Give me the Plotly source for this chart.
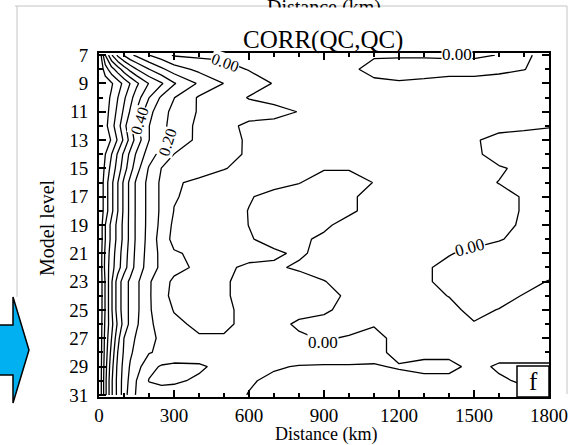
import plotly.graph_objects as go

# ---------------- data ----------------
dist_km = [0, 25, 50, 75, 100, 125, 150, 200, 250, 300, 400, 500, 600, 700, 800,
           900, 1000, 1100, 1200, 1300, 1400, 1500, 1600, 1700, 1800]
model_levels = list(range(7, 32))

corr_L07 = [1.00, 0.70, 0.51, 0.38, 0.29, 0.22, 0.18, 0.101, 0.05, -0.01, -0.02, -0.02, -0.03, -0.03, -0.03, -0.03, -0.02, -0.01, -0.01, -0.01, -0.01, -0.01, 0.002, 0.01, -0.02]
corr_L08 = [1.00, 0.85, 0.74, 0.65, 0.55, 0.47, 0.402, 0.302, 0.22, 0.15, 0.075, 0.034, -0.005, -0.02, -0.03, -0.03, -0.02, 0.03, 0.04, 0.04, 0.03, 0.03, 0.02, 0.002, -0.03]
corr_L09 = [1.00, 0.956, 0.912, 0.847, 0.773, 0.697, 0.621, 0.495, 0.412, 0.309, 0.186, 0.098, 0.045, -0.005, -0.03, -0.03, -0.03, -0.02, -0.01, -0.02, -0.03, -0.03, -0.04, -0.04, -0.04]
corr_L10 = [1.00, 0.944, 0.883, 0.802, 0.717, 0.633, 0.55, 0.402, 0.283, 0.203, 0.088, 0.046, -0.005, -0.02, -0.03, -0.03, -0.03, -0.03, -0.03, -0.03, -0.03, -0.03, -0.03, -0.03, -0.03]
corr_L11 = [1.00, 0.938, 0.864, 0.774, 0.681, 0.589, 0.493, 0.329, 0.238, 0.171, 0.091, 0.06, 0.04, 0.02, -0.002, -0.02, -0.03, -0.03, -0.03, -0.03, -0.03, -0.03, -0.03, -0.03, -0.03]
corr_L12 = [1.00, 0.929, 0.84, 0.74, 0.635, 0.523, 0.433, 0.302, 0.226, 0.164, 0.078, 0.027, -0.02, -0.02, -0.03, -0.03, -0.03, -0.03, -0.03, -0.03, -0.03, -0.03, -0.03, -0.02, -0.005]
corr_L13 = [1.00, 0.948, 0.892, 0.788, 0.68, 0.563, 0.458, 0.302, 0.222, 0.161, 0.078, 0.027, -0.01, -0.02, -0.03, -0.03, -0.03, -0.03, -0.03, -0.03, -0.03, -0.01, 0.03, 0.04, 0.03]
corr_L14 = [1.00, 0.902, 0.802, 0.687, 0.578, 0.474, 0.386, 0.25, 0.163, 0.099, 0.063, 0.025, -0.01, -0.02, -0.03, -0.03, -0.03, -0.03, -0.03, -0.03, -0.03, -0.02, 0.04, 0.05, 0.04]
corr_L15 = [1.00, 0.877, 0.765, 0.657, 0.545, 0.44, 0.34, 0.19, 0.098, 0.079, 0.041, 0.003, -0.02, -0.03, -0.03, -0.005, -0.005, -0.02, -0.03, -0.03, -0.03, -0.03, -0.01, 0.02, 0.04]
corr_L16 = [1.00, 0.85, 0.725, 0.602, 0.478, 0.371, 0.281, 0.171, 0.081, 0.012, -0.02, -0.03, -0.03, -0.02, -0.003, 0.03, 0.03, -0.002, -0.03, -0.03, -0.03, -0.02, 0.002, 0.03, 0.04]
corr_L17 = [1.00, 0.85, 0.725, 0.602, 0.478, 0.371, 0.281, 0.171, 0.081, 0.005, -0.02, -0.03, -0.005, 0.02, 0.04, 0.04, 0.01, -0.02, -0.03, -0.03, -0.03, -0.03, -0.02, 0.005, 0.04]
corr_L18 = [1.00, 0.85, 0.725, 0.602, 0.478, 0.371, 0.281, 0.171, 0.081, -0.002, -0.03, -0.03, 0.002, 0.03, 0.04, 0.03, 0.01, -0.02, -0.03, -0.03, -0.03, -0.03, -0.02, 0.005, 0.04]
corr_L19 = [1.00, 0.802, 0.67, 0.57, 0.47, 0.37, 0.28, 0.17, 0.073, -0.02, -0.03, -0.03, 0.001, 0.03, 0.03, 0.01, -0.02, -0.03, -0.03, -0.03, -0.03, -0.03, -0.02, 0.01, 0.04]
corr_L20 = [1.00, 0.802, 0.67, 0.57, 0.47, 0.37, 0.28, 0.165, 0.057, -0.03, -0.03, -0.03, -0.005, 0.02, 0.01, -0.01, -0.03, -0.03, -0.03, -0.03, -0.03, -0.03, -0.005, 0.02, 0.04]
corr_L21 = [1.00, 0.78, 0.65, 0.55, 0.45, 0.36, 0.27, 0.16, 0.074, 0.01, -0.02, -0.03, -0.02, -0.01, 0.01, -0.02, -0.03, -0.03, -0.03, -0.03, -0.005, 0.02, 0.03, 0.04, 0.04]
corr_L22 = [1.00, 0.77, 0.64, 0.54, 0.44, 0.35, 0.26, 0.155, 0.077, 0.032, -0.02, -0.01, 0.01, 0.01, -0.01, -0.02, -0.03, -0.03, -0.03, -0.01, 0.02, 0.04, 0.04, 0.04, 0.04]
corr_L23 = [1.00, 0.792, 0.613, 0.453, 0.35, 0.278, 0.222, 0.111, 0.043, -0.02, -0.03, -0.01, 0.03, 0.03, 0.03, 0.002, -0.02, -0.03, -0.03, -0.01, 0.02, 0.04, 0.04, 0.03, -0.005]
corr_L24 = [1.00, 0.792, 0.613, 0.453, 0.35, 0.278, 0.222, 0.111, 0.037, -0.03, -0.03, -0.01, 0.03, 0.03, 0.03, 0.02, -0.01, -0.03, -0.03, -0.02, 0.002, 0.03, 0.03, -0.005, -0.02]
corr_L25 = [1.00, 0.792, 0.613, 0.453, 0.35, 0.278, 0.222, 0.111, 0.05, -0.005, -0.03, -0.02, 0.03, 0.03, 0.02, 0.01, -0.02, -0.03, -0.03, -0.03, -0.02, 0.02, -0.003, -0.02, -0.03]
corr_L26 = [1.00, 0.781, 0.629, 0.483, 0.36, 0.275, 0.213, 0.118, 0.065, 0.021, -0.02, -0.02, 0.03, 0.02, -0.01, -0.02, -0.02, -0.005, -0.03, -0.03, -0.02, -0.005, -0.02, -0.03, -0.03]
corr_L27 = [1.00, 0.767, 0.601, 0.433, 0.299, 0.238, 0.187, 0.12, 0.085, 0.05, 0.01, 0.01, 0.03, 0.03, 0.01, -0.005, 0.005, 0.02, -0.02, -0.03, -0.03, -0.03, -0.03, -0.03, -0.03]
corr_L28 = [1.00, 0.758, 0.567, 0.399, 0.286, 0.214, 0.173, 0.107, 0.08, 0.06, 0.04, 0.03, 0.03, 0.03, 0.03, 0.03, 0.03, 0.02, -0.02, -0.02, -0.02, -0.02, -0.03, -0.03, -0.03]
corr_L29 = [1.00, 0.742, 0.538, 0.375, 0.267, 0.19, 0.14, 0.03, -0.01, -0.02, -0.01, 0.02, 0.02, 0.005, -0.003, -0.005, -0.005, -0.005, 0.005, 0.02, 0.02, -0.02, 0.01, 0.01, 0.01]
corr_L30 = [1.00, 0.73, 0.517, 0.365, 0.256, 0.171, 0.099, -0.005, -0.02, -0.01, 0.01, 0.02, 0.005, -0.01, -0.02, -0.02, -0.02, -0.02, -0.02, -0.02, -0.02, -0.02, -0.01, 0.01, 0.01]
corr_L31 = [1.00, 0.73, 0.517, 0.368, 0.25, 0.15, 0.09, 0.06, 0.04, 0.03, 0.02, 0.02, -0.002, -0.02, -0.02, -0.02, -0.02, -0.02, -0.02, -0.02, -0.02, -0.02, -0.02, -0.02, -0.02]

corr_rows = [corr_L07, corr_L08, corr_L09, corr_L10, corr_L11, corr_L12, corr_L13,
             corr_L14, corr_L15, corr_L16, corr_L17, corr_L18, corr_L19, corr_L20,
             corr_L21, corr_L22, corr_L23, corr_L24, corr_L25, corr_L26, corr_L27,
             corr_L28, corr_L29, corr_L30, corr_L31]

x_tick_vals = [0, 300, 600, 900, 1200, 1500, 1800]
x_tick_text = ["0", "300", "600", "900", "1200", "1500", "1800"]
y_tick_vals = [7, 9, 11, 13, 15, 17, 19, 21, 23, 25, 27, 29, 31]
y_tick_text = [str(v) for v in y_tick_vals]

contour_labels = [("0.00", 20), ("0.40", -72), ("0.20", -72), ("0.00", 0), ("0.00", -15), ("0.00", 0)]

# ---------------- figure ----------------
W, H = 581, 445
SERIF = "Liberation Serif"


def px(x):
    return x / W


def py(y):
    return 1 - y / H


fig = go.Figure()
fig.add_trace(go.Contour(
    x=dist_km, y=model_levels, z=corr_rows,
    contours=dict(start=0, end=0.9, size=0.1, coloring="lines", showlabels=False),
    colorscale=[[0, "black"], [1, "black"]],
    line=dict(width=1.3, smoothing=0),
    showscale=False, hoverinfo="skip",
))

axis_font = dict(family=SERIF, size=19, color="black")
fig.update_layout(
    width=W, height=H,
    margin=dict(l=0, r=0, t=0, b=0, autoexpand=False),
    paper_bgcolor="white", plot_bgcolor="white",
    showlegend=False,
    xaxis=dict(
        domain=[px(99), px(549)], range=[0, 1800], anchor="y",
        tickmode="array", tickvals=x_tick_vals, ticktext=x_tick_text,
        ticks="inside", ticklen=7, tickwidth=1.5, tickcolor="black",
        minor=dict(tick0=0, dtick=100, ticks="inside", ticklen=4, tickcolor="black"),
        showline=True, linecolor="black", linewidth=2, mirror="allticks",
        showgrid=False, zeroline=False, tickfont=axis_font, ticklabelstandoff=0,
        automargin=False,
    ),
    yaxis=dict(
        domain=[py(397), py(53)], range=[31.15, 6.85], anchor="x",
        tickmode="array", tickvals=y_tick_vals, ticktext=y_tick_text,
        ticks="inside", ticklen=7, tickwidth=1.5, tickcolor="black",
        minor=dict(tick0=7, dtick=1, ticks="inside", ticklen=4, tickcolor="black"),
        showline=True, linecolor="black", linewidth=2, mirror="allticks",
        showgrid=False, zeroline=False, tickfont=axis_font, ticklabelstandoff=5,
        automargin=False,
    ),
)

shapes = []
grey = "#c4c4c4"
shapes.append(dict(type="line", xref="paper", yref="paper", x0=px(15), y0=py(6), x1=px(567), y1=py(6),
                   line=dict(color=grey, width=1)))
shapes.append(dict(type="line", xref="paper", yref="paper", x0=px(17), y0=py(6), x1=px(17), y1=py(297),
                   line=dict(color=grey, width=1)))
shapes.append(dict(type="line", xref="paper", yref="paper", x0=px(567), y0=py(6), x1=px(567), y1=py(394),
                   line=dict(color=grey, width=1)))
arrow_pts = [(-3, 325), (13, 325), (13, 297), (29, 350), (13, 403), (13, 375), (-3, 375)]
path = "M " + " L ".join(f"{px(a):.5f},{py(b):.5f}" for a, b in arrow_pts) + " Z"
shapes.append(dict(type="path", xref="paper", yref="paper", path=path,
                   fillcolor="#00B0F0", line=dict(color="black", width=1.5), layer="above"))
shapes.append(dict(type="rect", xref="paper", yref="paper", x0=px(517), y0=py(397), x1=px(549), y1=py(366),
                   fillcolor="white", line=dict(color="black", width=1.5), layer="above"))
fig.update_layout(shapes=shapes)

ann = []


def add_text(text, x, y, size, angle=0, bg=None, yanchor="middle"):
    d = dict(text=text, xref="paper", yref="paper", x=px(x), y=py(y), showarrow=False,
             xanchor="center", yanchor=yanchor, textangle=angle,
             font=dict(family=SERIF, size=size, color="black"))
    if bg:
        d["bgcolor"] = bg
        d["borderpad"] = 0
    ann.append(d)


# cropped caption of the panel above: only the tops of its letters show
add_text("Distance (km)", 324, -6, 20, yanchor="top")
ann.append(dict(text=" ", xref="paper", yref="paper", x=px(324), y=py(7), xanchor="center",
                yanchor="top", showarrow=False, width=170, height=22, bgcolor="white", borderpad=0))

add_text("CORR(QC,QC)", 323, 40, 25)
add_text("Distance (km)", 326, 434, 18)
add_text("Model level", 47, 228, 20, angle=-90)
add_text("f", 533, 381, 25)

label_pos = [(225, 63), (140, 121), (167, 142), (457, 55), (470, 248), (323, 342)]
label_size = [16, 16, 16, 17, 17, 17]
for (txt, ang), (lx, ly), sz in zip(contour_labels, label_pos, label_size):
    add_text(txt, lx, ly, sz, angle=ang, bg="white")

fig.update_layout(annotations=ann)
fig.write_html("out.html")
